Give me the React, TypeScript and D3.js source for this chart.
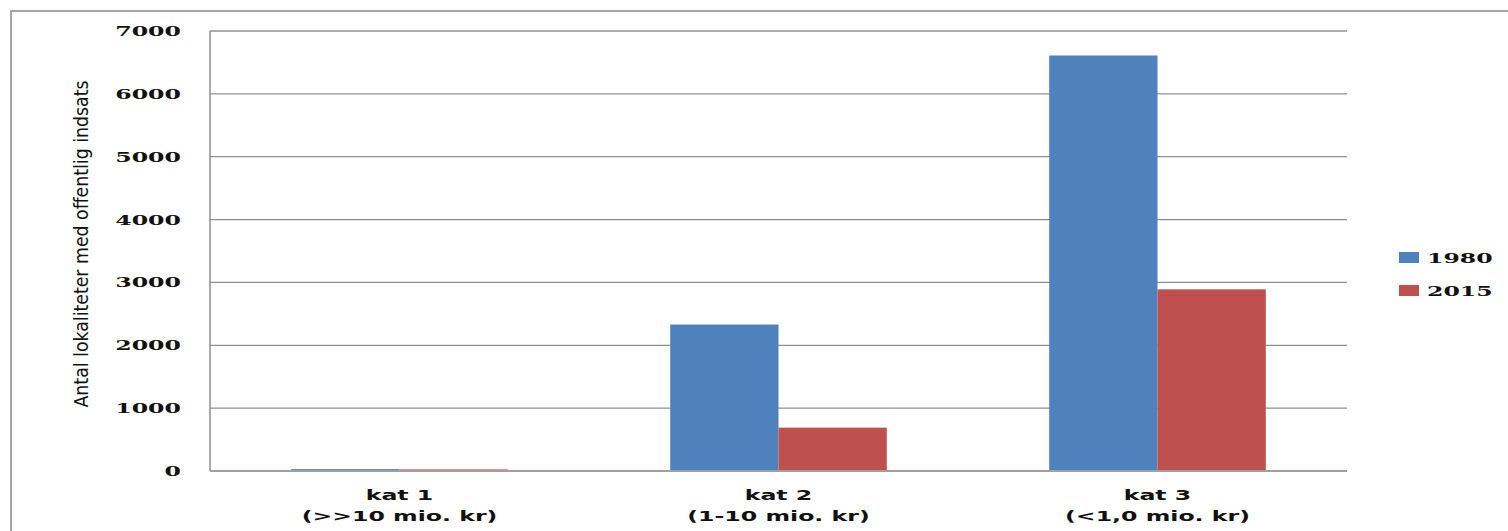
import React from "react";
import * as d3 from "d3";

const categories = ["kat 1", "kat 2", "kat 3"];
const categorySub = ["(>>10 mio. kr)", "(1-10 mio. kr)", "(<1,0 mio. kr)"];
const seriesNames = ["1980", "2015"];
const values1980 = [30, 2330, 6610];
const values2015 = [25, 690, 2890];
const yTicks = [0, 1000, 2000, 3000, 4000, 5000, 6000, 7000];
const colors = ["#4F81BD", "#C0504D"];
const yTitle = "Antal lokaliteter med offentlig indsats";

const W = 1508;
const H = 531;
const plot = { left: 210, right: 1347, top: 31, bottom: 471 };
const SX = 1.75;

export default function App() {
  const x0 = d3.scaleBand<string>().domain(categories).range([plot.left, plot.right]).padding(0);
  const x1 = d3
    .scaleBand<string>()
    .domain(seriesNames)
    .range([0, x0.bandwidth()])
    .paddingInner(0)
    .paddingOuter(0.75);
  const y = d3.scaleLinear().domain([0, 7000]).range([plot.bottom, plot.top]);
  const seriesValues = [values1980, values2015];
  const grid = "#8f8f8f";

  return (
    <svg width={W} height={H} style={{ position: "absolute", left: 0, top: 0, background: "#fff" }}>
      <rect x={11} y={11} width={W + 20} height={H + 20} fill="#fff" stroke="#a6a6a6" strokeWidth={2} />
      {yTicks.map((t) => (
        <line key={"g" + t} x1={plot.left} x2={plot.right} y1={y(t)} y2={y(t)} stroke={grid} strokeWidth={1.3} />
      ))}
      <line x1={plot.left} x2={plot.left} y1={plot.top} y2={plot.bottom} stroke={grid} strokeWidth={1.5} />
      {categories.map((c, ci) =>
        seriesNames.map((s, si) => {
          const v = seriesValues[si][ci];
          return (
            <rect
              key={c + s}
              x={(x0(c) as number) + (x1(s) as number)}
              y={y(v)}
              width={x1.bandwidth()}
              height={plot.bottom - y(v)}
              fill={colors[si]}
            />
          );
        })
      )}
      <line x1={plot.left} x2={plot.right} y1={plot.bottom} y2={plot.bottom} stroke="#a0a0a0" strokeWidth={1.8} />
      {yTicks.map((t) => (
        <text
          key={"t" + t}
          transform={`translate(181,${y(t) + 5}) scale(${SX},1)`}
          textAnchor="end"
          fontFamily="'DejaVu Serif', serif"
          fontWeight="bold"
          fontSize={13.5}
          fill="#111"
        >
          {t}
        </text>
      ))}
      {categories.map((c, ci) => {
        const cx = (x0(c) as number) + x0.bandwidth() / 2;
        return (
          <g key={"c" + c}>
            <text
              transform={`translate(${cx},500) scale(${SX},1)`}
              textAnchor="middle"
              fontFamily="'DejaVu Sans', sans-serif"
              fontWeight="bold"
              fontSize={13.5}
              fill="#111"
            >
              {c}
            </text>
            <text
              transform={`translate(${cx},521) scale(${SX},1)`}
              textAnchor="middle"
              fontFamily="'DejaVu Sans', sans-serif"
              fontWeight="bold"
              fontSize={13.5}
              fill="#111"
            >
              {categorySub[ci]}
            </text>
          </g>
        );
      })}
      <text
        transform={`translate(88,244) rotate(-90)`}
        textAnchor="middle"
        fontFamily="'DejaVu Sans Condensed', 'DejaVu Sans', sans-serif"
        fontStretch="condensed"
        fontSize={20}
        textLength={327}
        lengthAdjust="spacingAndGlyphs"
        fill="#111"
      >
        {yTitle}
      </text>
      {seriesNames.map((s, si) => (
        <g key={"l" + s}>
          <rect x={1399} y={252 + si * 33} width={20} height={11} fill={colors[si]} />
          <text
            transform={`translate(1427,${263 + si * 33}) scale(${SX},1)`}
            fontFamily="'DejaVu Serif', serif"
            fontWeight="bold"
            fontSize={13.5}
            fill="#111"
          >
            {s}
          </text>
        </g>
      ))}
    </svg>
  );
}
